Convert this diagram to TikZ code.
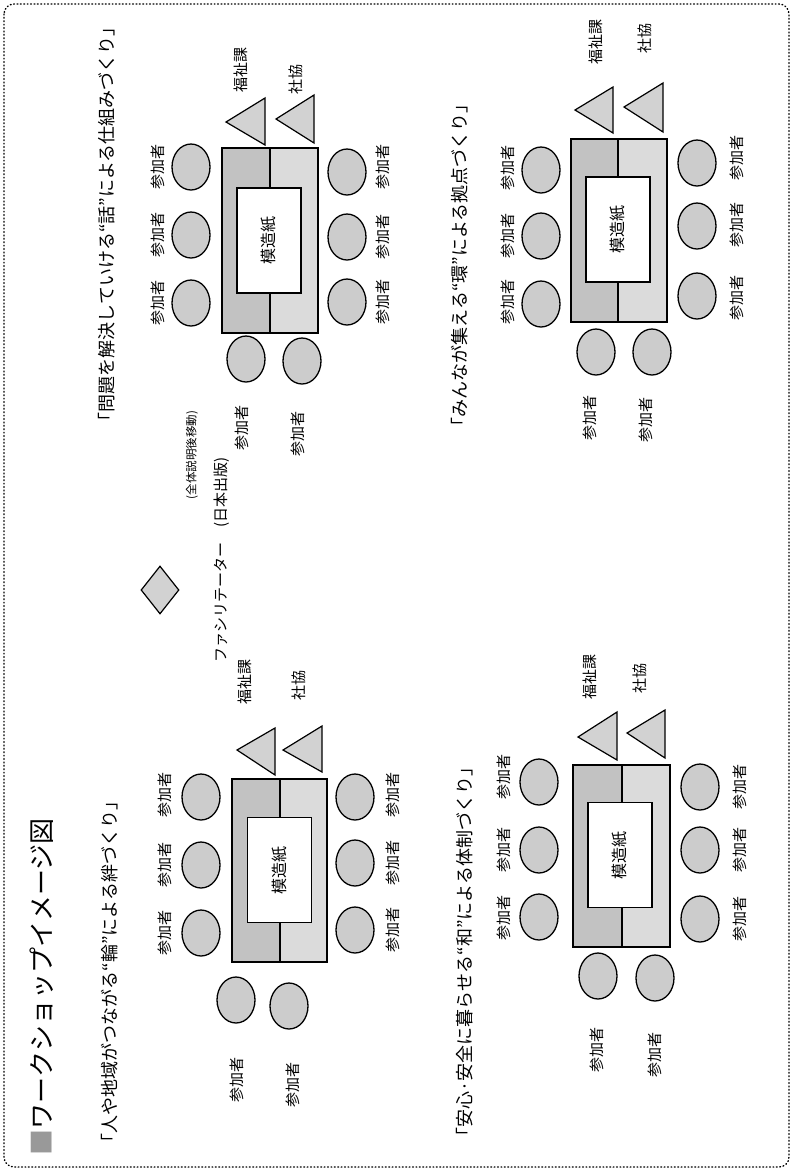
\documentclass[tikz,border=0pt]{standalone}
\usepackage{fontspec}
\setmainfont{Noto Sans CJK JP}
\usetikzlibrary{shapes.geometric}
\tikzset{
  seat/.style={ellipse, draw=black, line width=1.3pt, fill=gray!40, minimum width=38pt, minimum height=46pt, inner sep=0pt},
  lbl/.style={rotate=90, font=\fontsize{15}{15}\selectfont, inner sep=0pt},
  sub/.style={rotate=90, font=\fontsize{18}{18}\selectfont, inner sep=0pt},
  tri/.style={draw=black, line width=1.2pt, fill=gray!35, line join=miter},
  paper/.style={rotate=90, draw=black, line width=1.5pt, fill=white, minimum width=105pt, minimum height=64pt, inner sep=0pt, font=\fontsize{16}{16}\selectfont},
  tdark/.style={fill=gray!48},
  tlight/.style={fill=gray!28},
  tedge/.style={draw=black, line width=2pt},
  tdiv/.style={draw=black, line width=1.3pt},
}
\begin{document}
\begin{tikzpicture}[x=1pt,y=-1pt]
\useasboundingbox (0,0) rectangle (795,1171);
% border
\draw[line width=1.4pt, dash pattern=on 0.8pt off 2.6pt, line cap=round, rounded corners=10pt] (4,4) rectangle (789,1167);

% title and subtitles
\node[rotate=90, font=\fontsize{26}{26}\selectfont, inner sep=0pt, anchor=west] (title) at (42,1156) {\textcolor{gray!80}{■}ワークショップイメージ図};
\node[sub] (s1) at (110,972) {「人や地域がつながる“輪”による絆づくり」};
\node[sub] (s2) at (107,224) {「問題を解決していける“話”による仕組みづくり」};
\node[sub] (s3) at (465,952) {「安心·安全に暮らせる“和”による体制づくり」};
\node[sub] (s4) at (460,265) {「みんなが集える“環”による拠点づくり」};

% facilitator
\node[lbl] (fac) at (222,560) {ファシリテーター\quad(日本出版)};
\node[draw=black, line width=1.2pt, fill=gray!35, diamond, minimum width=38pt, minimum height=48pt, inner sep=0pt, aspect=0.8] (dia) at (160,590) {};
\node[rotate=90, font=\fontsize{11.5}{11.5}\selectfont, inner sep=0pt] (move) at (192,455) {(全体説明後移動)};

% ================= group 1 (top left in image) =================
\fill[tdark] (222,148) rectangle (270,333);
\fill[tlight] (270,148) rectangle (318,333);
\draw[tdiv] (270,148) -- (270,190) (270,291) -- (270,333);
\node[paper] (p1) at (269,240.5) {模造紙};
\draw[tedge] (222,148) rectangle (318,333);
\node[seat] (a1) at (191,167) {};
\node[seat] (a2) at (191,235) {};
\node[seat] (a3) at (191,303) {};
\node[lbl] (al1) at (158,167) {参加者};
\node[lbl] (al2) at (158,235) {参加者};
\node[lbl] (al3) at (158,303) {参加者};
\node[seat] (a4) at (347,172) {};
\node[seat] (a5) at (347,237) {};
\node[seat] (a6) at (347,302) {};
\node[lbl] (al4) at (383,167) {参加者};
\node[lbl] (al5) at (383,237) {参加者};
\node[lbl] (al6) at (383,302) {参加者};
\node[seat] (a7) at (246,359) {};
\node[seat] (a8) at (302,361) {};
\node[lbl] (al7) at (242,428) {参加者};
\node[lbl] (al8) at (298,434) {参加者};
\draw[tri] (226,122) -- (265,98) -- (265,145) -- cycle;
\draw[tri] (276,119) -- (314,95) -- (314,143) -- cycle;
\node[lbl] (af) at (241,70) {福祉課};
\node[lbl] (as) at (296,79) {社協};

% ================= group 2 (top right in image) =================
\fill[tdark] (571,139) rectangle (618,322);
\fill[tlight] (618,139) rectangle (667,322);
\draw[tdiv] (618,139) -- (618,177) (618,282) -- (618,322);
\node[paper] (p2) at (618,229.5) {模造紙};
\draw[tedge] (571,139) rectangle (667,322);
\node[seat] (b1) at (541,170) {};
\node[seat] (b2) at (541,236) {};
\node[seat] (b3) at (541,304) {};
\node[lbl] (bl1) at (508,168) {参加者};
\node[lbl] (bl2) at (508,236) {参加者};
\node[lbl] (bl3) at (508,302) {参加者};
\node[seat] (b4) at (697,163) {};
\node[seat] (b5) at (697,226) {};
\node[seat] (b6) at (697,296) {};
\node[lbl] (bl4) at (737,158) {参加者};
\node[lbl] (bl5) at (737,225) {参加者};
\node[lbl] (bl6) at (737,298) {参加者};
\node[seat] (b7) at (596,352) {};
\node[seat] (b8) at (652,352) {};
\node[lbl] (bl7) at (590,418) {参加者};
\node[lbl] (bl8) at (646,420) {参加者};
\draw[tri] (575,110) -- (613,87) -- (613,133) -- cycle;
\draw[tri] (624,107) -- (663,83) -- (663,132) -- cycle;
\node[lbl] (bf) at (596,42) {福祉課};
\node[lbl] (bs) at (645,38) {社協};

% ================= group 3 (bottom left in image) =================
\fill[tdark] (232,779) rectangle (280,962);
\fill[tlight] (280,779) rectangle (327,962);
\draw[tdiv] (280,779) -- (280,818) (280,922) -- (280,962);
\node[paper] (p3) at (279.5,870) {模造紙};
\draw[tedge] (232,779) rectangle (327,962);
\node[seat] (c1) at (201,797) {};
\node[seat] (c2) at (201,865) {};
\node[seat] (c3) at (201,933) {};
\node[lbl] (cl1) at (165,795) {参加者};
\node[lbl] (cl2) at (165,865) {参加者};
\node[lbl] (cl3) at (165,933) {参加者};
\node[seat] (c4) at (355,797) {};
\node[seat] (c5) at (355,863) {};
\node[seat] (c6) at (355,930) {};
\node[lbl] (cl4) at (393,795) {参加者};
\node[lbl] (cl5) at (393,863) {参加者};
\node[lbl] (cl6) at (393,930) {参加者};
\node[seat] (c7) at (236,1000) {};
\node[seat] (c8) at (289,1006) {};
\node[lbl] (cl7) at (237,1080) {参加者};
\node[lbl] (cl8) at (293,1085) {参加者};
\draw[tri] (237,750) -- (275,728) -- (275,775) -- cycle;
\draw[tri] (283,750) -- (322,726) -- (322,772) -- cycle;
\node[lbl] (cf) at (245,682) {福祉課};
\node[lbl] (cs) at (299,685) {社協};

% ================= group 4 (bottom right in image) =================
\fill[tdark] (573,765) rectangle (622,947);
\fill[tlight] (622,765) rectangle (670,947);
\draw[tdiv] (622,765) -- (622,803) (622,907) -- (622,947);
\node[paper] (p4) at (620,855) {模造紙};
\draw[tedge] (573,765) rectangle (670,947);
\node[seat] (d1) at (539,782) {};
\node[seat] (d2) at (539,850) {};
\node[seat] (d3) at (539,917) {};
\node[lbl] (dl1) at (504,777) {参加者};
\node[lbl] (dl2) at (504,850) {参加者};
\node[lbl] (dl3) at (504,918) {参加者};
\node[seat] (d4) at (700,787) {};
\node[seat] (d5) at (700,850) {};
\node[seat] (d6) at (700,919) {};
\node[lbl] (dl4) at (740,787) {参加者};
\node[lbl] (dl5) at (740,850) {参加者};
\node[lbl] (dl6) at (740,919) {参加者};
\node[seat] (d7) at (598,976) {};
\node[seat] (d8) at (655,978) {};
\node[lbl] (dl7) at (597,1050) {参加者};
\node[lbl] (dl8) at (655,1055) {参加者};
\draw[tri] (578,737) -- (617,712) -- (617,760) -- cycle;
\draw[tri] (627,733) -- (665,710) -- (665,758) -- cycle;
\node[lbl] (df) at (590,677) {福祉課};
\node[lbl] (ds) at (640,678) {社協};
\end{tikzpicture}
\end{document}
